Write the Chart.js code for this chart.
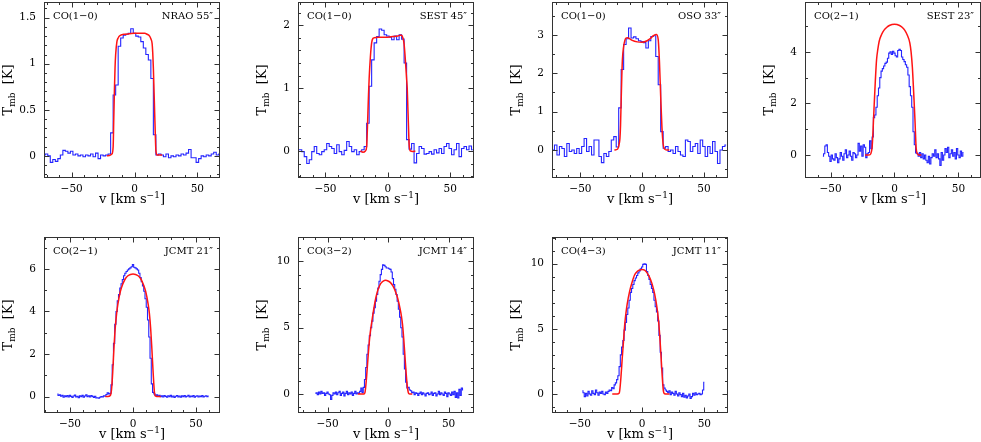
<!DOCTYPE html>
<html>
<head>
<meta charset="utf-8">
<script src="https://cdn.jsdelivr.net/npm/chart.js@4.4.1/dist/chart.umd.min.js"></script>
<style>
  html, body { margin: 0; padding: 0; background: #fff; overflow: hidden; width: 981px; height: 442px; }
  canvas { position: absolute; }
</style>
</head>
<body>
<script>
/* ========= DATA ========= */

const lineNames = ["CO(1\u22120)", "CO(1\u22120)", "CO(1\u22120)", "CO(2\u22121)", "CO(2\u22121)", "CO(3\u22122)", "CO(4\u22123)"];
const beamNames = ["NRAO 55\u2033", "SEST 45\u2033", "OSO 33\u2033", "SEST 23\u2033", "JCMT 21\u2033", "JCMT 14\u2033", "JCMT 11\u2033"];

// first channel velocity and channel width (km/s) of each observed spectrum
const chanStart = [-72, -72, -74, -56, -60, -60, -48];
const chanWidth = [2, 2, 2, 1, 1, 1, 1];

// observed Tmb [K], one value per channel
const p1Obs = [0.01, 0.02, 0.00, -0.07, -0.04, -0.06, -0.03, 0.01, 0.06, 0.05,
  0.03, 0.05, 0.01, 0.02, 0.00, 0.01, -0.01, 0.01, 0.00, 0.02,
  -0.01, 0.03, -0.03, 0.01, 0.00, 0.01, 0.02,
  0.25, 0.66, 0.77, 1.19, 1.28, 1.31, 1.32, 1.33, 1.38, 1.33, 1.30, 1.29, 1.24, 1.17, 1.10, 1.04, 0.84, 0.23, 0.01,
  0.02, 0.01, -0.01, 0.02, -0.02, 0.00, -0.01, 0.01, 0.00, 0.02, 0.01, 0.03, 0.07, -0.02, -0.02, -0.07,
  -0.03, 0.00, -0.01, 0.01, 0.00, 0.02, 0.04, 0.01, 0.02];
const p2Obs = [0.02, 0.02, -0.01, -0.09, -0.20, -0.14, -0.01, 0.07, -0.04, -0.06,
  -0.01, 0.02, 0.12, 0.07, 0.04, -0.04, 0.10, -0.01, -0.06, 0.01,
  0.15, 0.07, -0.01, 0.02, -0.06, -0.01, 0.02,
  0.07, 0.44, 1.03, 1.45, 1.72, 1.82, 1.94, 1.92, 1.85, 1.83, 1.81, 1.77, 1.83, 1.77, 1.85, 1.78, 1.40, 0.18, 0.03,
  0.12, -0.19, -0.04, 0.07, 0.04, -0.05, -0.04, -0.01, -0.05, 0.02, -0.03, 0.04, -0.04, 0.07, 0.12, 0.04,
  -0.06, 0.02, 0.12, -0.09, 0.04, 0.07, 0.02, 0.08, 0.02];
const p3Obs = [0.43, 0.00, 0.13, -0.13, 0.09, 0.04, -0.17, 0.17, -0.04, 0.00,
  -0.09, 0.04, -0.09, 0.09, 0.30, -0.04, 0.09, -0.13, 0.26, 0.26,
  -0.17, -0.33, -0.09, -0.17, -0.04, 0.26, 0.35, 0.08,
  1.10, 2.10, 2.75, 2.90, 3.18, 2.92, 2.95, 2.90, 2.85, 2.83, 2.80, 2.66, 2.85, 2.96, 2.98, 2.44, 1.70, 0.48, 0.05,
  0.09, -0.04, 0.00, -0.09, 0.09, -0.04, -0.13, -0.17, 0.26, 0.22, -0.04, 0.09, 0.17, -0.09, 0.26, 0.09,
  -0.17, 0.09, -0.09, 0.22, -0.04, -0.35, 0.00, 0.09, 0.13];
const p4Obs = [-0.05, 0.05, 0.35, 0.40, 0.10, -0.05, -0.25, 0.00, -0.15, -0.20,
  0.05, -0.10, -0.30, -0.15, 0.10, -0.05, -0.20, 0.05, 0.20, -0.10,
  0.00, 0.15, -0.05, -0.20, 0.10, 0.05, -0.10, 0.00, 0.45, 0.15,
  0.35, -0.05, 0.40, 0.30, -0.10, 0.05, 0.10,
  0.55, 0.25, 0.70, 1.45, 1.55, 1.85, 2.30, 2.60, 3.00, 3.25,
  3.35, 3.45, 3.55, 3.60, 3.75, 3.95, 4.00, 3.90, 4.02, 3.95,
  3.85, 3.80, 4.05, 4.10, 4.05, 3.80, 3.70, 3.62, 3.50, 3.40,
  3.10, 2.65, 2.30, 1.85, 0.90, 0.40, 0.08, 0.05,
  -0.05, 0.10, -0.10, 0.05, -0.15, 0.00, -0.20, -0.30, -0.05, -0.35,
  -0.10, 0.05, -0.05, 0.20, -0.10, 0.05, -0.15, -0.40, 0.10, -0.20,
  0.00, 0.25, 0.10, 0.30, -0.10, 0.05, 0.20, -0.05, 0.10, -0.15,
  0.25, 0.00, -0.10, 0.15, -0.05, 0.10];
const p5Obs = [0.12, 0.05, 0.08, 0.02, 0.06, -0.03, 0.04, 0.00, 0.05, -0.02,
  0.06, 0.01, -0.04, 0.03, 0.07, -0.02, 0.02, -0.05, 0.04, 0.00,
  0.06, -0.03, 0.03, 0.08, 0.00, 0.04, -0.02, 0.05, 0.01, -0.04,
  0.02, -0.06, -0.05, -0.08, -0.03, 0.00, -0.02, 0.04, 0.02, 0.10,
  0.18, 0.12, 0.15, 0.55, 1.50, 2.50, 3.40, 4.00, 4.50, 4.80,
  5.10, 5.30, 5.50, 5.68, 5.80, 5.88, 5.95, 6.00, 6.05, 6.10,
  6.20, 6.08, 6.05, 6.00, 5.95, 5.80, 5.60, 5.40, 5.20, 4.95,
  4.60, 4.20, 3.60, 2.80, 1.80, 0.60, 0.20, 0.12, 0.05,
  0.08, 0.03, 0.06, 0.00, 0.04, -0.02, 0.05, 0.01, -0.03, 0.04,
  0.00, 0.06, -0.02, 0.03, -0.04, 0.02, 0.05, -0.01, 0.03, -0.03,
  0.04, 0.00, 0.05, -0.02, 0.02, 0.06, -0.01, 0.03, 0.00, 0.05,
  -0.03, 0.02, 0.04, -0.02, 0.03, 0.00, 0.05, -0.01, 0.02, 0.04,
  0.00, 0.03];
const p6Obs = [0.05, 0.10, -0.05, 0.15, 0.00, 0.20, 0.05, 0.10, -0.10, 0.05,
  0.15, 0.00, -0.05, -0.40, -0.10, 0.10, 0.00, 0.15, -0.05, 0.10,
  0.20, -0.10, 0.05, 0.15, -0.15, 0.05, 0.20, -0.05, 0.10, 0.00,
  0.15, -0.10, 0.05, 0.20, 0.00, 0.10, 0.05, 0.20,
  0.45, 0.10, 0.50, 1.10, 2.00, 3.00, 3.70, 4.40, 5.00, 5.50,
  6.10, 6.50, 7.00, 7.50, 8.00, 8.50, 9.00, 9.40, 9.75, 9.70,
  9.60, 9.50, 9.50, 9.45, 9.40, 9.20, 8.70, 8.25, 7.90, 7.50,
  7.00, 6.40, 5.80, 5.00, 4.30, 3.00, 1.90, 0.90, 0.45, 0.50,
  0.30, 0.25, 0.10,
  0.15, -0.05, 0.10, 0.05, -0.10, 0.05, 0.15, -0.05, 0.10, 0.00,
  -0.15, 0.05, 0.10, -0.05, 0.00, 0.15, -0.10, 0.05, 0.10, -0.15,
  0.00, 0.20, -0.05, 0.10, 0.00, -0.10, 0.15, 0.05, -0.20, 0.10,
  0.00, -0.10, 0.15, -0.05, 0.20, -0.25, 0.10, -0.30, 0.35, -0.10,
  0.45, 0.30];
const p7Obs = [0.25, 0.10, -0.20, 0.05, -0.15, 0.20, 0.00, -0.10, 0.25, 0.05,
  -0.05, 0.30, 0.10, -0.10, 0.15, 0.05, 0.20, 0.00, -0.05, 0.15,
  0.05, 0.20,
  0.30, 0.25, 0.50, 0.40, 0.70, 0.85, 1.10, 1.40, 2.10, 3.00,
  3.60, 4.10, 4.90, 5.50, 6.10, 6.60, 7.20, 7.80, 8.10, 8.40,
  8.70, 8.90, 9.10, 9.30, 9.45, 9.60, 9.75, 9.95, 10.00, 9.95,
  9.40, 9.10, 8.80, 8.40, 8.10, 7.80, 7.20, 6.70, 6.30, 5.60,
  4.50, 3.20, 2.00, 0.70, 0.45, 0.30, 0.20, 0.10,
  0.25, -0.05, 0.15, 0.05, -0.10, 0.20, 0.00, -0.15, 0.10, -0.05,
  -0.20, 0.05, -0.25, -0.10, -0.30, -0.15, 0.00, -0.35, -0.20, 0.05,
  -0.10, 0.10, -0.05, 0.00, 0.05, -0.05, 0.00, 0.30, 0.90];

// model profiles: velocity [km/s] and Tmb [K]
const p1ModV = [-22, -20, -18, -17, -16.5, -16, -15.5, -15, -14, -13, -12, -10, -8, -4, 0, 4, 8, 10, 12, 13, 14, 14.5, 15, 15.5, 16, 16.5, 17, 18, 20, 22];
const p1ModT = [0, 0.005, 0.02, 0.1, 0.4, 0.7, 0.95, 1.1, 1.24, 1.28, 1.3, 1.315, 1.32, 1.325, 1.33, 1.33, 1.33, 1.32, 1.30, 1.27, 1.22, 1.12, 0.95, 0.72, 0.48, 0.25, 0.06, 0.01, 0.01, 0.01];
const p2ModV = [-22, -20, -18, -17, -16.5, -16, -15.5, -15, -14, -13, -12, -11, -8, -4, 0, 4, 8, 10, 11, 12, 13, 14, 14.5, 15, 15.5, 16, 16.5, 17, 18, 20, 22];
const p2ModT = [0, -0.02, 0, 0.07, 0.3, 0.6, 0.9, 1.15, 1.5, 1.72, 1.79, 1.8, 1.81, 1.81, 1.81, 1.82, 1.83, 1.84, 1.84, 1.8, 1.7, 1.45, 1.3, 1.15, 1.0, 0.7, 0.4, 0.12, 0, -0.01, 0];
const p3ModV = [-22.5, -20, -19, -18.5, -18, -17.5, -17, -16.5, -16, -15, -14, -13, -12, -10, -8, -4, 0, 4, 7, 9.5, 11.5, 13, 14, 15, 16, 17, 18, 20, 22];
const p3ModT = [0, 0.02, 0.1, 0.18, 0.3, 0.65, 1.3, 1.9, 2.35, 2.7, 2.86, 2.92, 2.93, 2.9, 2.86, 2.82, 2.81, 2.85, 2.92, 2.99, 3.01, 2.88, 2.3, 1.4, 0.6, 0.15, 0.03, 0, 0];
const p4ModV = [-23, -20, -18.5, -17.5, -17, -16.5, -16, -15, -14, -13, -12, -10, -8, -6, -4, -2, 0, 2, 4, 6, 8, 10, 12, 13, 14, 15, 16, 17, 18, 19, 21];
const p4ModT = [0, 0, 0.05, 0.3, 0.7, 1.25, 1.8, 2.85, 3.7, 4.1, 4.4, 4.68, 4.85, 4.95, 5.02, 5.06, 5.07, 5.06, 5.02, 4.95, 4.84, 4.65, 4.35, 4.0, 3.4, 2.45, 1.4, 0.25, 0.05, 0, 0];
const p5ModV = [-22, -20, -18, -17, -16, -15, -14, -13, -12, -10, -8, -6, -4, -2, 0, 2, 4, 6, 8, 10, 12, 13, 14, 15, 16, 17, 18, 20, 22];
const p5ModT = [0, 0, 0.05, 0.35, 1.25, 2.4, 3.3, 3.9, 4.35, 4.95, 5.3, 5.55, 5.68, 5.74, 5.76, 5.74, 5.68, 5.55, 5.3, 4.95, 4.35, 3.9, 3.2, 2.2, 1.1, 0.2, 0.02, 0, 0];
const p6ModV = [-25, -22, -20, -19, -18, -17, -16, -15, -14, -13, -12, -10, -8, -6, -4, -2, 0, 2, 4, 6, 8, 10, 11, 12, 13, 14, 15, 16, 17, 18, 20];
const p6ModT = [0, 0, 0, 0.15, 1.0, 2.2, 3.4, 4.4, 5.1, 5.7, 6.3, 7.3, 7.95, 8.35, 8.52, 8.57, 8.52, 8.4, 8.15, 7.75, 7.2, 6.4, 5.9, 5.2, 4.1, 2.8, 1.5, 0.5, 0.05, 0, 0];
const p7ModV = [-24, -20, -18.5, -18, -17, -16, -15, -14, -13, -12, -10, -8, -6, -4, -2, 0, 2, 4, 6, 8, 10, 12, 13, 14, 15, 16, 17, 18, 20, 22];
const p7ModT = [0, 0, 0.05, 0.25, 1.3, 2.7, 4.0, 5.3, 6.2, 6.9, 7.9, 8.6, 9.15, 9.4, 9.52, 9.55, 9.5, 9.3, 8.95, 8.45, 7.7, 6.6, 5.8, 4.7, 3.2, 1.6, 0.3, 0.02, 0, 0];

// axes
const xTicks = [-50, 0, 50];
const xMinor = 10;
const yTicks = [[0, 0.5, 1, 1.5], [0, 1, 2], [0, 1, 2, 3], [0, 2, 4], [0, 2, 4, 6], [0, 5, 10], [0, 5, 10]];
const yMinor = [0.1, 0.2, 0.5, 1, 1, 1, 1];
const xMin = [-72, -72, -73, -70, -70.6, -74.4, -72.4];
const xMax = [68, 69, 69.5, 67.7, 69, 71, 69];
const yMin = [-0.24, -0.43, -0.73, -0.89, -0.77, -1.43, -1.46];
const yMax = [1.67, 2.37, 3.86, 5.93, 7.5, 11.84, 12.05];

const obsSeries = [p1Obs, p2Obs, p3Obs, p4Obs, p5Obs, p6Obs, p7Obs];
const modV = [p1ModV, p2ModV, p3ModV, p4ModV, p5ModV, p6ModV, p7ModV];
const modT = [p1ModT, p2ModT, p3ModT, p4ModT, p5ModT, p6ModT, p7ModT];

/* ========= LAYOUT ========= */

const FONT = '"DejaVu Serif", serif';
const boxLeft = [44, 298, 552, 805, 44, 298, 552];
const boxTop = [2, 2, 2, 2, 237, 237, 237];
const BOX = 176, AXW = 44, AXH = 34, PADR = 2;

function fmt(v) {
  return v < 0 ? "\u2212" + (-v) : String(v);
}

const framePlugin = {
  id: "frame",
  afterDraw(chart, args, o) {
    const { ctx, chartArea: a, scales: { x, y } } = chart;
    const L = Math.round(a.left) + 0.5, R = Math.round(a.right) - 0.5;
    const T = Math.round(a.top) + 0.5, B = Math.round(a.bottom) - 0.5;
    ctx.save();
    ctx.strokeStyle = "#333";
    ctx.lineWidth = 1;
    ctx.strokeRect(L, T, R - L, B - T);

    ctx.beginPath();
    for (let k = Math.ceil(x.min / xMinor); k * xMinor <= x.max; k++) {
      const v = k * xMinor;
      const px = Math.round(x.getPixelForValue(v)) + 0.5;
      const len = xTicks.includes(v) ? 5 : 2.5;
      ctx.moveTo(px, B); ctx.lineTo(px, B - len);
      ctx.moveTo(px, T); ctx.lineTo(px, T + len);
    }
    const ms = o.yMinor;
    for (let k = Math.ceil(y.min / ms - 1e-9); k * ms <= y.max + 1e-9; k++) {
      const v = k * ms;
      const py = Math.round(y.getPixelForValue(v)) + 0.5;
      const major = o.yTicks.some(t => Math.abs(t - v) < 1e-6);
      const len = major ? 5 : 2.5;
      ctx.moveTo(L, py); ctx.lineTo(L + len, py);
      ctx.moveTo(R, py); ctx.lineTo(R - len, py);
    }
    ctx.stroke();

    // panel labels
    ctx.fillStyle = "#000";
    ctx.font = "10px " + FONT;
    ctx.textBaseline = "alphabetic";
    ctx.textAlign = "left";
    ctx.fillText(o.line, a.left + 9, a.top + 17);
    ctx.textAlign = "right";
    ctx.fillText(o.beam, a.right - 7, a.top + 17);

    // x title: v [km s^-1]
    const big = "13px " + FONT, small = "9px " + FONT;
    const xt = [["v [km s", big, 0], ["\u22121", small, -5], ["]", big, 0]];
    let w = 0;
    xt.forEach(p => { ctx.font = p[1]; w += ctx.measureText(p[0]).width; });
    let cx = (a.left + a.right) / 2 - w / 2;
    const by = a.bottom + 25;
    ctx.textAlign = "left";
    xt.forEach(p => { ctx.font = p[1]; ctx.fillText(p[0], cx, by + p[2]); cx += ctx.measureText(p[0]).width; });

    // y title: T_mb [K]
    const yt = [["T", big, 0], ["mb", small, 3], ["  [K]", big, 0]];
    w = 0;
    yt.forEach(p => { ctx.font = p[1]; w += ctx.measureText(p[0]).width; });
    ctx.translate(a.left - 32, (a.top + a.bottom) / 2);
    ctx.rotate(-Math.PI / 2);
    cx = -w / 2;
    yt.forEach(p => { ctx.font = p[1]; ctx.fillText(p[0], cx, p[2]); cx += ctx.measureText(p[0]).width; });
    ctx.restore();
  }
};

/* ========= PANELS ========= */

function makePanel(i) {
  const canvas = document.createElement("canvas");
  canvas.width = AXW + BOX + PADR;
  canvas.height = 2 + BOX + AXH;
  canvas.style.left = (boxLeft[i] - AXW) + "px";
  canvas.style.top = (boxTop[i] - 2) + "px";
  document.body.appendChild(canvas);

  const obs = obsSeries[i].map((t, k) => ({ x: chanStart[i] + k * chanWidth[i], y: t }));
  const model = modV[i].map((v, k) => ({ x: v, y: modT[i][k] }));

  new Chart(canvas, {
    type: "line",
    data: {
      datasets: [
        {
          data: model,
          borderColor: "#ff1414",
          borderWidth: 1.5,
          pointRadius: 0,
          cubicInterpolationMode: "monotone"
        },
        {
          data: obs,
          borderColor: "#2424ff",
          borderWidth: 1.1,
          pointRadius: 0,
          stepped: "middle"
        }
      ]
    },
    options: {
      responsive: false,
      animation: false,
      events: [],
      layout: { padding: { left: 0, top: 2, right: PADR, bottom: 0 } },
      plugins: {
        legend: { display: false },
        tooltip: { enabled: false },
        frame: { line: lineNames[i], beam: beamNames[i], yTicks: yTicks[i], yMinor: yMinor[i] }
      },
      scales: {
        x: {
          type: "linear",
          min: xMin[i],
          max: xMax[i],
          afterBuildTicks: s => { s.ticks = xTicks.map(v => ({ value: v })); },
          afterFit: s => { s.height = AXH; s.paddingLeft = 0; s.paddingRight = 0; },
          grid: { display: false, drawTicks: false },
          border: { display: false },
          ticks: { callback: fmt, color: "#000", font: { family: FONT, size: 10.5 }, padding: 5, maxRotation: 0, autoSkip: false }
        },
        y: {
          type: "linear",
          min: yMin[i],
          max: yMax[i],
          afterBuildTicks: s => { s.ticks = yTicks[i].map(v => ({ value: v })); },
          afterFit: s => { s.width = AXW; s.paddingTop = 0; s.paddingBottom = 0; },
          grid: { display: false, drawTicks: false },
          border: { display: false },
          ticks: { callback: fmt, color: "#000", font: { family: FONT, size: 10.5 }, padding: 8, autoSkip: false }
        }
      }
    },
    plugins: [framePlugin]
  });
}

for (let i = 0; i < 7; i++) makePanel(i);
</script>
</body>
</html>
